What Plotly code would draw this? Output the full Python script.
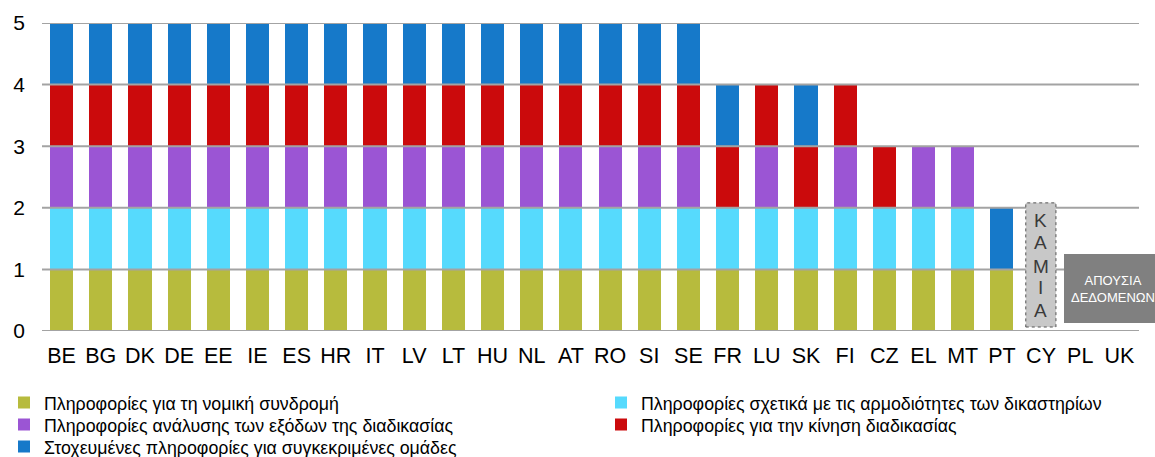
import plotly.graph_objects as go

countries = ["BE","BG","DK","DE","EE","IE","ES","HR","IT","LV","LT","HU","NL","AT","RO","SI","SE",
             "FR","LU","SK","FI","CZ","EL","MT","PT","CY","PL","UK"]

series_names = [
    "Πληροφορίες για τη νομική συνδρομή",
    "Πληροφορίες σχετικά με τις αρμοδιότητες των δικαστηρίων",
    "Πληροφορίες ανάλυσης των εξόδων της διαδικασίας",
    "Πληροφορίες για την κίνηση διαδικασίας",
    "Στοχευμένες πληροφορίες για συγκεκριμένες ομάδες",
]
colors = ["#b7bb3d", "#56dafd", "#9b55d4", "#cb0a0c", "#1679c9"]

#                 17 full countries   FR LU SK FI CZ EL MT PT CY PL UK
legal_aid      = [1]*17 +             [1, 1, 1, 1, 1, 1, 1, 1, 0, 0, 0]
court_comp     = [1]*17 +             [1, 1, 1, 1, 1, 1, 1, 0, 0, 0, 0]
cost_analysis  = [1]*17 +             [0, 1, 0, 1, 0, 1, 1, 0, 0, 0, 0]
progress       = [1]*17 +             [1, 1, 1, 1, 1, 0, 0, 0, 0, 0, 0]
targeted       = [1]*17 +             [1, 0, 1, 0, 0, 0, 0, 1, 0, 0, 0]
values = [legal_aid, court_comp, cost_analysis, progress, targeted]

y_ticks = [0, 1, 2, 3, 4, 5]
none_label = "ΚΑΜΙΑ"
nodata_label = "ΑΠΟΥΣΙΑ<br>ΔΕΔΟΜΕΝΩΝ"

FONT = "Liberation Sans, Arial, sans-serif"

# legend layout: two columns, three rows (pixel positions inside the page)
W, H = 1155, 457
ML, MR, MT, MB = 42, 16, 23, 126
PW, PH = W - ML - MR, H - MT - MB
def px_to_paper_x(px): return (px - ML) / PW
def px_to_paper_y(py): return (H - MB - py) / PH
legend_slots = [(4, 403), (601, 403), (4, 425), (601, 425), (4, 447)]

fig = go.Figure()
legend_layouts = {}
for i, (name, col, vals) in enumerate(zip(series_names, colors, values)):
    lg = "legend" if i == 0 else f"legend{i+1}"
    fig.add_trace(go.Bar(x=countries, y=vals, name=name, marker_color=col,
                         marker_line_width=0, legend=lg))
    sx, sy = legend_slots[i]
    legend_layouts[lg] = dict(x=px_to_paper_x(sx), xanchor="left",
                              y=px_to_paper_y(sy), yanchor="middle",
                              font=dict(size=17.8), itemwidth=30,
                              bgcolor="rgba(0,0,0,0)")

# gridlines drawn above bars
for t in y_ticks:
    fig.add_shape(type="line", xref="paper", yref="y", x0=0, x1=1, y0=t, y1=t,
                  line=dict(color="#a3a3a3", width=2), layer="above")

# "none" box for CY
fig.add_shape(type="rect", xref="x", yref="y", x0=24.61, x1=25.38, y0=0.065, y1=2.08,
              fillcolor="#c8c8c8", line=dict(color="#555555", width=1, dash="dot"), layer="above")
letter_y = [1.80, 1.43, 1.055, 0.70, 0.34]
for ch, ly in zip(none_label, letter_y):
    fig.add_annotation(x=24.99, y=ly, xref="x", yref="y", text=ch, showarrow=False,
                       xanchor="center", yanchor="middle",
                       font=dict(size=19, color="#3a3a3a", family=FONT))

# "no data" box for PL, UK
fig.add_shape(type="rect", xref="paper", yref="paper",
              x0=px_to_paper_x(1064), x1=px_to_paper_x(1156),
              y0=px_to_paper_y(323), y1=px_to_paper_y(254),
              fillcolor="#808080", line=dict(width=0), layer="above")
fig.add_annotation(x=px_to_paper_x(1113), y=px_to_paper_y(288.5), xref="paper", yref="paper",
                   xanchor="center", yanchor="middle",
                   text=nodata_label, showarrow=False,
                   font=dict(size=13, color="white", family=FONT), align="center")

fig.update_layout(
    barmode="stack",
    bargap=0.41,
    width=W, height=H,
    margin=dict(l=ML, r=MR, t=MT, b=MB, autoexpand=False),
    plot_bgcolor="white", paper_bgcolor="white",
    font=dict(family=FONT, size=17, color="black"),
    showlegend=True,
    xaxis=dict(showgrid=False, showline=False, ticks="", tickfont=dict(size=21.5),
               range=[-0.5, 27.5], ticklabelstandoff=9),
    yaxis=dict(range=[0, 5.0], tickvals=y_ticks, showgrid=False, zeroline=False,
               showline=False, tickfont=dict(size=21), ticklabelstandoff=16),
    **legend_layouts,
)
fig.write_html("out.html", config={"displayModeBar": False},
               post_script="document.body.style.margin='0';")
